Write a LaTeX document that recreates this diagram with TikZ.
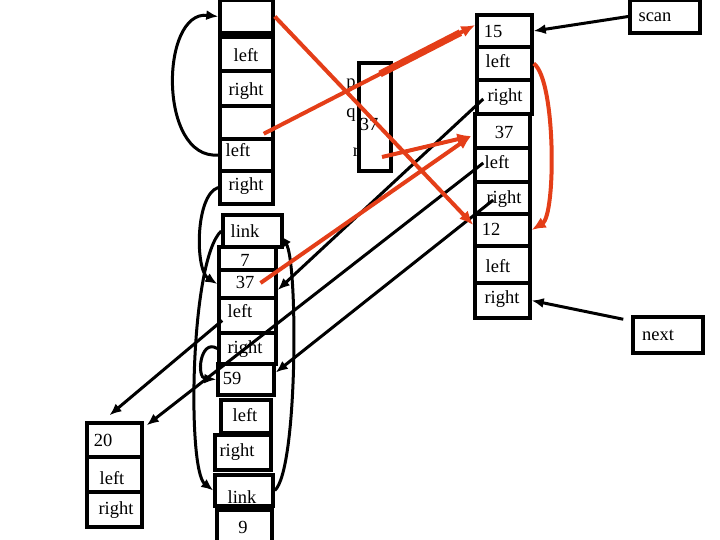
\documentclass[tikz,border=0pt]{standalone}
\usepackage{fontspec}
\setmainfont{Liberation Serif}
\usetikzlibrary{arrows.meta,calc}
\definecolor{redline}{RGB}{228,62,24}
\begin{document}
\begin{tikzpicture}[x=1pt,y=-1pt,
  box/.style={draw,line width=3.5pt,fill=white,inner sep=0pt},
  txt/.style={font=\fontsize{18.5}{20}\selectfont,inner sep=0pt},
  blk/.style={line width=3pt,-{Latex[length=12pt,width=10pt]}},
  rarrow/.style={draw=redline,line width=4pt,-{Latex[length=14pt,width=12pt]}}]
\useasboundingbox (0,0) rectangle (720,540);
% left column, upper part
\node[box,minimum width=53pt,minimum height=33pt] (A0) at (246.5,16.5) {};
\node[box,minimum width=53pt,minimum height=34pt] (A1) at (246.5,54) {};
\node[box,minimum width=53pt,minimum height=35pt] (A2) at (246.5,88.5) {};
\node[box,minimum width=53pt,minimum height=33pt] (A3) at (246.5,122.5) {};
\node[box,minimum width=53pt,minimum height=32pt] (A4) at (246.5,155) {};
\node[box,minimum width=53pt,minimum height=33pt] (A5) at (246.5,187.5) {};
\node[txt] (A1t) at (246,55) {left};
\node[txt] (A2t) at (246,91) {right};
\node[txt] (A4t) at (238,150) {left};
\node[txt] (A5t) at (246,186) {right};
% left column, lower part
\node[box,minimum width=59pt,minimum height=32pt] (C0) at (252.5,231) {};
\node[txt] (C2t) at (245,282) {37};
\node[box,minimum width=57pt,minimum height=28pt,fill=none] (C2) at (247.5,284) {};
\node[box,minimum width=57pt,minimum height=23pt] (C1) at (247.5,258.5) {};
\node[box,minimum width=57pt,minimum height=35pt] (C3) at (247.5,315.5) {};
\node[box,minimum width=57pt,minimum height=31pt] (C4) at (247.5,348.5) {};
\node[box,minimum width=56pt,minimum height=31pt] (C5) at (246,379.5) {};
\node[box,minimum width=50pt,minimum height=33pt] (C6) at (246,416.5) {};
\node[box,minimum width=56pt,minimum height=35pt] (C7) at (243,452.5) {};
\node[box,minimum width=58pt,minimum height=31pt] (C8) at (244,490.5) {};
\node[box,minimum width=55pt,minimum height=34pt] (C9) at (244.5,527) {};
\node[txt] (C0t) at (245,231) {link};
\node[txt] (C1t) at (245,260) {7};
\node[txt] (C3t) at (240,311) {left};
\node[txt] (C4t) at (245,349) {right};
\node[txt] (C5t) at (232,378) {59};
\node[txt] (C6t) at (245,415) {left};
\node[txt] (C7t) at (237,452) {right};
\node[txt] (C8t) at (242,497) {link};
\node[txt] (C9t) at (243,527) {9};
% bottom-left node
\node[box,minimum width=55pt,minimum height=34pt] (D1) at (114.5,440) {};
\node[box,minimum width=55pt,minimum height=35pt] (D2) at (114.5,474.5) {};
\node[box,minimum width=55pt,minimum height=35pt] (D3) at (114.5,509.5) {};
\node[txt] (D1t) at (103,440) {20};
\node[txt] (D2t) at (112,478) {left};
\node[txt] (D3t) at (116,510) {right};
% right column
\node[box,minimum width=55pt,minimum height=32pt] (B1) at (504.5,31) {};
\node[box,minimum width=55pt,minimum height=33pt] (B2) at (504.5,63.5) {};
\node[box,minimum width=55pt,minimum height=34pt] (B3) at (504.5,97) {};
\node[box,minimum width=55pt,minimum height=34pt] (B4) at (502.5,131) {};
\node[box,minimum width=55pt,minimum height=34pt] (B5) at (502.5,165) {};
\node[box,minimum width=55pt,minimum height=32pt] (B6) at (502.5,198) {};
\node[box,minimum width=55pt,minimum height=32pt] (B7) at (502.5,230) {};
\node[box,minimum width=55pt,minimum height=37pt] (B8) at (502.5,264.5) {};
\node[box,minimum width=55pt,minimum height=35pt] (B9) at (502.5,300.5) {};
\node[txt] (B1t) at (493,31) {15};
\node[txt] (B2t) at (498,61) {left};
\node[txt] (B3t) at (505,97) {right};
\node[txt] (B4t) at (504,132) {37};
\node[txt] (B5t) at (497,162) {left};
\node[txt] (B6t) at (504,199) {right};
\node[txt] (B7t) at (491,229) {12};
\node[txt] (B8t) at (498,266) {left};
\node[txt] (B9t) at (502,299) {right};
% middle box
\node[box,minimum width=32pt,minimum height=108pt,fill=none] (M) at (375,117) {};
\node[txt] (Mp) at (351,85) {p};
\node[txt] (Mq) at (351,115) {q};
\node[txt] (Mv) at (369,124) {37};
\node[txt] (Mr) at (356,152) {r};
% scan / next
\node[box,minimum width=70pt,minimum height=33pt] (scan) at (665,16.5) {};
\node[txt] (scant) at (655,17) {scan};
\node[box,minimum width=70pt,minimum height=36pt] (next) at (668,335) {};
\node[txt] (nextt) at (658,335) {next};
% black connectors
\draw[blk] (scan.west) -- (B1.east);
\draw[blk] ($(next.north west)+(-8,4)$) -- (B9.east);
\draw[blk] ($(B3.west)+(8,2)$) -- ($(C2.east)+(0,6)$);
\draw[blk] ($(B5.west)+(10,-2)$) -- ($(D1.north east)+(3,4)$);
\draw[blk] ($(B6.west)+(20,2)$) -- ($(C5.east)+(0,-7)$);
\draw[blk] ($(C3.west)+(5,5)$) -- ($(D1.north)+(-5,-6)$);
\draw[blk] (A4.west) .. controls (158,160) and (160,10) .. (A0.west);
\draw[blk] (A5.west) .. controls (195,195) and (195,270) .. (C2.west);
\draw[blk] (C0.west) .. controls (190,260) and (187,470) .. (C8.west);
\draw[blk] (C8.east) .. controls (298,470) and (298,260) .. ($(C0.east)+(-4,4)$);
\draw[blk] (C4.west) .. controls (200,338) and (196,378) .. (C5.west);
% red connectors
\draw[rarrow] (A0.east) -- ($(B7.west)+(0,-5)$);
\coordinate (r2s) at ($(A3.south east)+(-11,-7)$);
\coordinate (r2e) at ($(B1.west)+(0,-6)$);
\draw[rarrow] (r2s) -- (r2e);
\draw[redline,line width=7pt] ($(r2s)!0.55!(r2e)$) -- ($(r2s)!0.93!(r2e)$);
\draw[rarrow] ($(M.center)+(7,40)$) -- ($(B4.west)+(-2,5)$);
\draw[rarrow] ($(C2.center)+(13,-1)$) -- ($(B4.west)+(-2,5)$);
\draw[rarrow] (B2.east) .. controls (556,80) and (556,215) .. (B7.east);
\end{tikzpicture}
\end{document}
